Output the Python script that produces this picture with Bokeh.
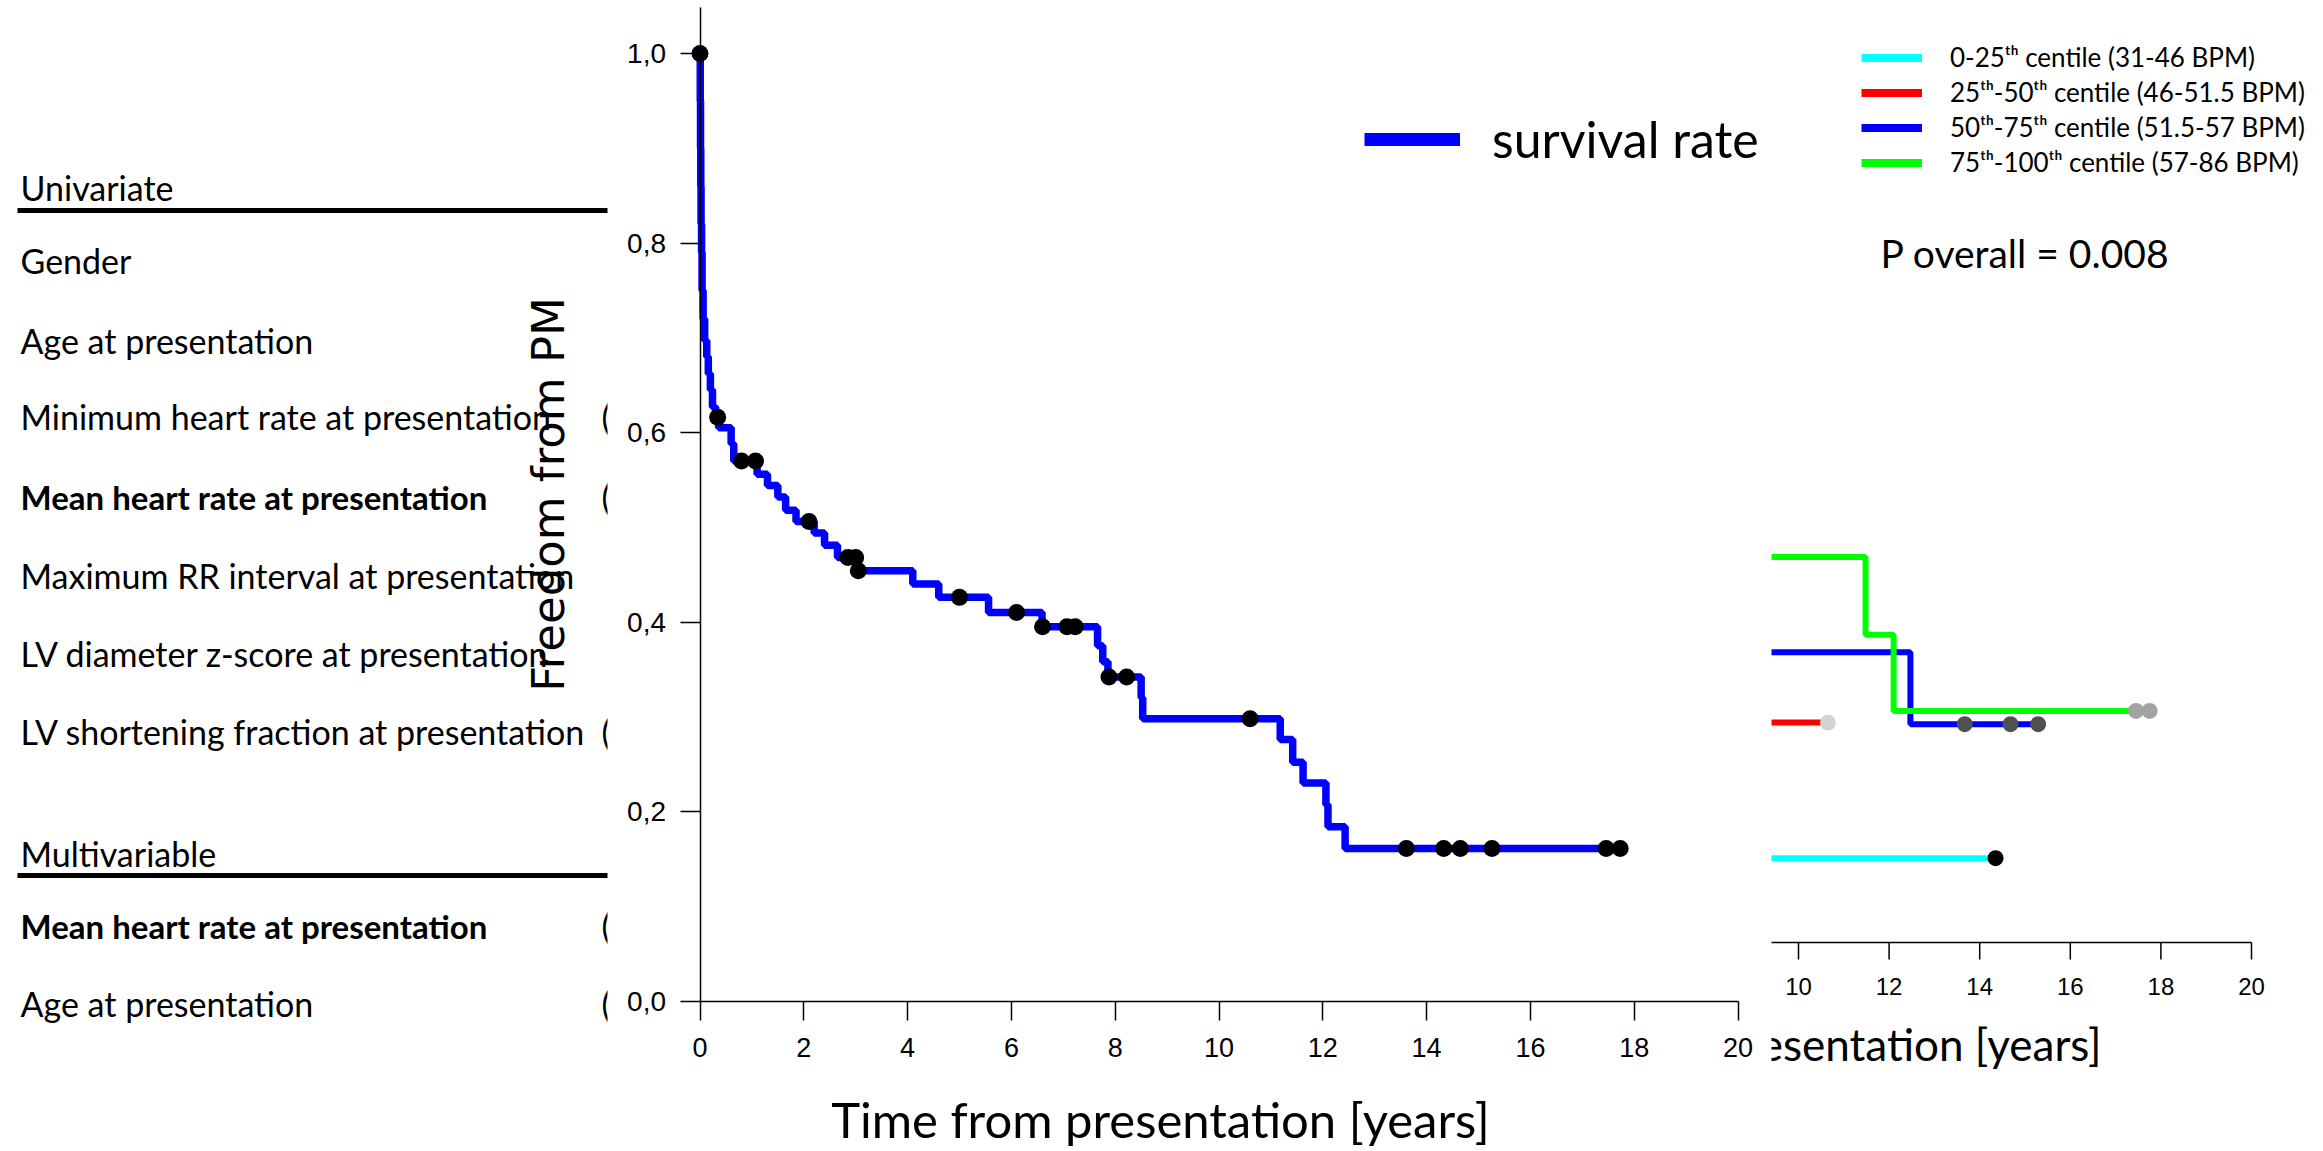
import numpy as np
from bokeh.plotting import figure
from bokeh.models import (Range1d, FixedTicker, CustomJSTickFormatter, Label,
                          BoxAnnotation, Legend, LegendItem)
from bokeh.core.properties import value
from bokeh.embed import file_html
from bokeh.resources import INLINE

# ---------------- data ----------------
main_times = [0, 0.005, 0.01, 0.015, 0.02, 0.03, 0.04, 0.06, 0.09, 0.13, 0.16, 0.20, 0.24,
              0.30, 0.36, 0.60, 0.65, 1.10, 1.30, 1.50, 1.65, 1.85, 2.20, 2.40, 2.65, 3.02,
              4.10, 4.60, 5.56, 6.59, 7.66, 7.76, 7.86, 8.50, 8.53, 11.18, 11.42, 11.62,
              12.06, 12.10, 12.43, 17.73]
main_surv = [1.0, 0.95, 0.90, 0.86, 0.82, 0.79, 0.75, 0.72, 0.697, 0.68, 0.662, 0.645, 0.627,
             0.616, 0.605, 0.588, 0.570, 0.556, 0.544, 0.532, 0.518, 0.506, 0.494, 0.481, 0.468,
             0.454, 0.440, 0.426, 0.410, 0.395, 0.375, 0.358, 0.342, 0.320, 0.298, 0.276,
             0.252, 0.230, 0.207, 0.184, 0.161, 0.161]
main_censored = [0.0, 0.34, 0.80, 1.07, 2.10, 2.85, 3.00, 3.05, 5.00, 6.10, 6.60, 7.07, 7.23,
                 7.88, 8.22, 10.60, 13.61, 14.33, 14.65, 15.26, 17.46, 17.73]

group_labels = ["0-25ᵗʰ centile (31-46 BPM)", "25ᵗʰ-50ᵗʰ centile (46-51.5 BPM)",
                "50ᵗʰ-75ᵗʰ centile (51.5-57 BPM)", "75ᵗʰ-100ᵗʰ centile (57-86 BPM)"]
q1_times, q1_surv, q1_cens = [0, 14.35], [0.102, 0.102], [14.35]
q2_times, q2_surv, q2_cens = [0, 10.65], [0.266, 0.266], [10.65]
q3_times, q3_surv, q3_cens = [0, 12.47, 15.29], [0.351, 0.264, 0.264], [13.67, 14.68, 15.29]
q4_times, q4_surv, q4_cens = [0, 11.48, 12.10, 17.75], [0.466, 0.372, 0.280, 0.280], [17.45, 17.75]

main_xticks = [0, 2, 4, 6, 8, 10, 12, 14, 16, 18, 20]
main_yticks = [0.0, 0.2, 0.4, 0.6, 0.8, 1.0]
right_xticks = [10, 12, 14, 16, 18, 20]

x_title = "Time from presentation [years]"
y_title = "Freedom from PM"
table_rows = ["Univariate", "Gender", "Age at presentation", "Minimum heart rate at presentation",
              "Mean heart rate at presentation", "Maximum RR interval at presentation",
              "LV diameter z-score at presentation", "LV shortening fraction at presentation",
              "Multivariable", "Mean heart rate at presentation", "Age at presentation"]
p_text = "P overall = 0.008"

# ---------------- layout constants (canvas pixels) ----------------
W, H = 2315, 1151
X0_PX, X_PER = 699.5, 51.9      # x = 0 and pixels per year (front chart)
Y0_PX, Y_PER = 1000.5, 947.5    # y = 0 and pixels per unit (front chart)
RX10, RX_PER, RY0, RY_PER = 1798.0, 45.3, 942.0, 827.0   # background chart
COVER_L, COVER_R = 607, 1771    # white background of the front chart


def px2x(px):
    return (px - X0_PX) / X_PER


def py2y(py):
    return (Y0_PX - py) / Y_PER


def step_value(times, surv, t):
    i = np.searchsorted(np.array(times), t, side="right") - 1
    return surv[max(i, 0)]


p = figure(width=W, height=H, output_backend="svg", toolbar_location=None,
           x_range=Range1d(px2x(0), px2x(W)), y_range=Range1d(py2y(H), py2y(0)),
           min_border=0)
p.outline_line_color = None
p.grid.visible = False
p.background_fill_color = "white"

p.extra_x_ranges = {"r": Range1d(10 - RX10 / RX_PER, 10 + (W - RX10) / RX_PER)}
p.extra_y_ranges = {"r": Range1d(-(H - RY0) / RY_PER, RY0 / RY_PER)}

# ---------------- hidden second column of the table (cut by the chart) ----------------
frag_rows = [418, 498, 733, 927, 1005]
p.text(x=[px2x(601)] * len(frag_rows), y=[py2y(v - 2) for v in frag_rows],
       text=["("] * len(frag_rows), text_font=value("Lato"), text_font_size="34px",
       text_color="black", text_align="left", text_baseline="middle")

# ---------------- background (partly hidden) chart ----------------
p.line(x=[0, max(right_xticks)], y=[0, 0], x_range_name="r", y_range_name="r",
       line_color="black", line_width=1.5)
p.ray(x=right_xticks, y=[0] * len(right_xticks), length=17, length_units="screen",
      angle=-np.pi / 2, x_range_name="r", y_range_name="r", line_color="black", line_width=1.5)
p.text(x=right_xticks, y=[0] * len(right_xticks), text=[str(t) for t in right_xticks],
       x_range_name="r", y_range_name="r", y_offset=44, text_align="center",
       text_baseline="middle", text_font=value("Liberation Sans"), text_font_size="24px",
       text_color="black")
p.text(x=[max(right_xticks)], y=[0], text=[x_title], x_range_name="r", y_range_name="r",
       x_offset=-150, y_offset=101, text_align="right", text_baseline="middle",
       text_font=value("Lato"), text_font_size="44px", text_color="black")

groups = [(q1_times, q1_surv, q1_cens, "#00ffff", "#000000"),
          (q2_times, q2_surv, q2_cens, "#ff0000", "#d3d3d3"),
          (q3_times, q3_surv, q3_cens, "#0000ff", "#505050"),
          (q4_times, q4_surv, q4_cens, "#00ff00", "#a3a3a3")]
for tt, ss, cc, col, ccol in groups:
    p.step(x=tt, y=ss, mode="after", x_range_name="r", y_range_name="r",
           line_color=col, line_width=6)
for tt, ss, cc, col, ccol in groups:
    p.scatter(x=cc, y=[step_value(tt, ss, c) for c in cc], x_range_name="r", y_range_name="r",
              size=16, fill_color=ccol, line_color=None)

# white background of the front chart, hiding the left part of the background chart
p.quad(left=[px2x(COVER_L)], right=[px2x(COVER_R)], bottom=[py2y(H)], top=[py2y(0)],
       fill_color="white", line_color=None)

# ---------------- front chart ----------------
p.step(x=main_times, y=main_surv, mode="after", line_color="#0000ff", line_width=7.5)
p.scatter(x=main_censored, y=[step_value(main_times, main_surv, c) for c in main_censored],
          size=17, fill_color="black", line_color=None)

# axes crossing at the origin
p.xaxis.fixed_location = 0
p.yaxis.fixed_location = 0
p.xaxis.ticker = FixedTicker(ticks=main_xticks)
p.xaxis.bounds = (0, max(main_xticks))
p.yaxis.ticker = FixedTicker(ticks=main_yticks)
p.yaxis.bounds = (0, py2y(7))
p.yaxis.formatter = CustomJSTickFormatter(code="return tick.toFixed(1).replace('.', ',');")
for ax in (p.xaxis, p.yaxis):
    ax.axis_line_color = "black"
    ax.axis_line_width = 1.5
    ax.major_tick_line_color = "black"
    ax.major_tick_line_width = 1.5
    ax.major_tick_in = 0
    ax.minor_tick_line_color = None
    ax.major_label_text_color = "black"
    ax.major_label_text_font = "Liberation Sans"
p.xaxis.major_tick_out = 19
p.xaxis.major_label_standoff = 18
p.xaxis.major_label_text_font_size = "27px"
p.yaxis.major_tick_out = 20
p.yaxis.major_label_standoff = 14
p.yaxis.major_label_text_font_size = "28px"

p.add_layout(Label(x=px2x(1160), y=py2y(1118), text=x_title,
                   text_font="Lato", text_font_size="49px", text_color="black",
                   text_align="center", text_baseline="middle"))
p.add_layout(Label(x=px2x(548), y=py2y(494), text=y_title, angle=np.pi / 2,
                   text_font="DejaVu Sans", text_font_size="45px", text_color="black",
                   text_align="center", text_baseline="alphabetic"))
p.add_layout(Label(x=px2x(1880), y=py2y(252), text=p_text,
                   text_font="Lato", text_font_size="39px", text_color="black",
                   text_align="left", text_baseline="middle"))

# legends
dummy_main = p.line(x=[np.nan], y=[np.nan], line_color="#0000ff", line_width=13)
leg_main = Legend(items=[LegendItem(label=value("survival rate"), renderers=[dummy_main])],
                  location=(1364, H - (139 + 30)),
                  padding=0, spacing=0, margin=0, glyph_width=96, glyph_height=60,
                  label_height=60, label_standoff=32, label_text_font="Lato",
                  label_text_font_size="50px", label_text_color="black",
                  background_fill_alpha=0, border_line_color=None)
p.add_layout(leg_main)

dummies = [p.line(x=[np.nan], y=[np.nan], line_color=g[3], line_width=8) for g in groups]
leg_r = Legend(items=[LegendItem(label=value(l), renderers=[d]) for l, d in zip(group_labels, dummies)],
               location=(1861, H - (57 - 17.5 + 4 * 35)),
               padding=0, spacing=0, margin=0, glyph_width=61, glyph_height=35,
               label_height=35, label_standoff=28, label_text_font="Lato",
               label_text_font_size="26px", label_text_color="black",
               background_fill_alpha=0, border_line_color=None)
p.add_layout(leg_r)

# ---------------- left table ----------------
row_y = [187, 260, 340, 416, 496, 575, 653, 731, 853, 925, 1003]
bold_rows = {4, 9}
for i, (txt, yy) in enumerate(zip(table_rows, row_y)):
    p.add_layout(Label(x=px2x(20), y=py2y(yy), text=txt, text_font="Lato",
                       text_font_size="33px" if i in bold_rows else "34px", text_color="black",
                       text_font_style="bold" if i in bold_rows else "normal",
                       text_align="left", text_baseline="middle"))
for yy in [210, 875]:
    p.add_layout(BoxAnnotation(left=px2x(17), right=px2x(COVER_L), top=py2y(yy - 2.5),
                               bottom=py2y(yy + 2.5), fill_color="black", fill_alpha=1,
                               line_color=None))

open("out.html", "w").write(file_html(p, INLINE))
